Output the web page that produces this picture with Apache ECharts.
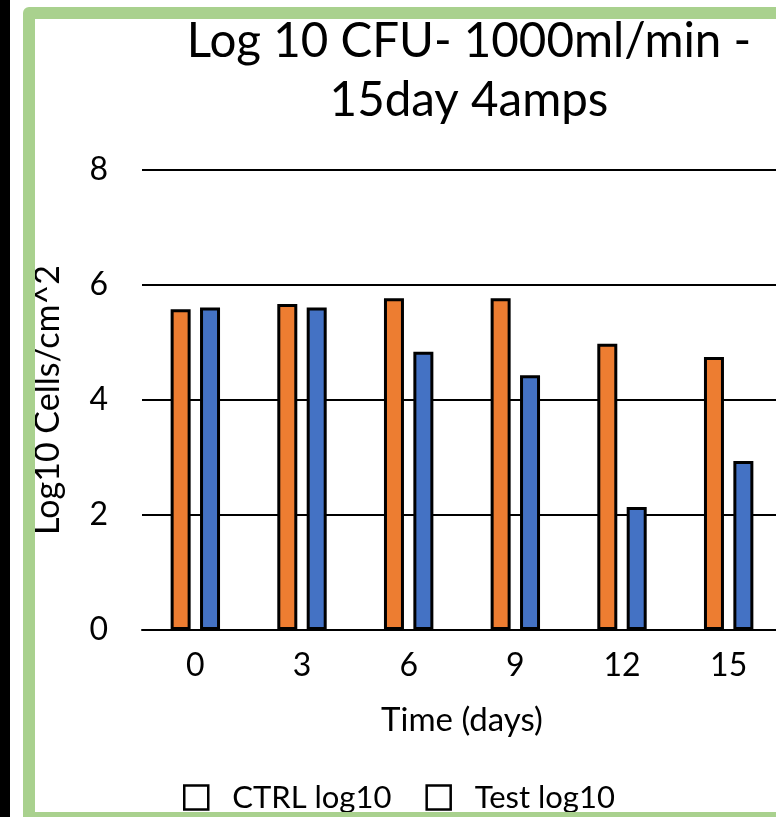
<!DOCTYPE html>
<html>
<head>
<meta charset="utf-8">
<script src="https://cdn.jsdelivr.net/npm/echarts@6/dist/echarts.min.js"></script>
<style>
  html, body { margin: 0; padding: 0; width: 776px; height: 817px; overflow: hidden; background: #fff; }
  #strip { position: absolute; left: 0; top: 0; width: 10px; height: 817px; background: #000; }
  #chart { position: absolute; left: 0; top: 0; width: 800px; height: 817px; }
  #frame { position: absolute; left: 23px; top: 7px; width: 800px; height: 793px;
           border: 12px solid #a9d18e; border-radius: 6px; pointer-events: none; }
</style>
</head>
<body>
<div id="strip"></div>
<div id="chart"></div>
<div id="frame"></div>
<script>
// Sampling days and log10 counts for the control and the treated surfaces
const days = ['0', '3', '6', '9', '12', '15'];
const ctrlLog10 = [5.58, 5.67, 5.77, 5.77, 4.98, 4.75];
const testLog10 = [5.61, 5.61, 4.84, 4.43, 2.14, 2.94];
const yTicks = [0, 2, 4, 6, 8];

const FONT = 'Lato, "Open Sans", sans-serif';
const chart = echarts.init(document.getElementById('chart'), null, { renderer: 'canvas' });

const barStyle = (color) => ({ color: color, borderColor: '#000', borderWidth: 3 });

chart.setOption({
  animation: false,
  backgroundColor: 'transparent',
  title: {
    text: 'Log 10 CFU- 1000ml/min -\n15day 4amps',
    left: 464,
    top: 7,
    textAlign: 'center',
    textStyle: { fontFamily: FONT, fontSize: 47.5, fontWeight: 'normal', color: '#000', lineHeight: 59 }
  },
  legend: {
    left: 183,
    top: 782,
    padding: 0,
    itemWidth: 24,
    itemHeight: 24,
    itemGap: 34,
    icon: 'rect',
    itemStyle: { color: '#fff', borderColor: '#000', borderWidth: 2.5 },
    textStyle: { fontFamily: FONT, fontSize: 31, color: '#000', padding: [0, 0, 0, 19] },
    data: ['CTRL log10', 'Test log10']
  },
  grid: { left: 142, top: 170, width: 640, height: 460, containLabel: false },
  xAxis: {
    type: 'category',
    data: days,
    name: 'Time (days)',
    nameLocation: 'middle',
    nameGap: 74,
    nameTextStyle: { fontFamily: FONT, fontSize: 33, color: '#000' },
    axisLine: { lineStyle: { color: '#000', width: 2 } },
    axisTick: { show: false },
    axisLabel: { fontFamily: FONT, fontSize: 32, color: '#000', margin: 20 }
  },
  yAxis: {
    type: 'value',
    min: yTicks[0],
    max: yTicks[yTicks.length - 1],
    interval: yTicks[1] - yTicks[0],
    name: 'Log10 Cells/cm^2',
    nameLocation: 'middle',
    nameRotate: 90,
    nameGap: 77,
    nameTextStyle: { fontFamily: FONT, fontSize: 34, color: '#000' },
    axisLine: { show: false },
    axisTick: { show: false },
    axisLabel: { fontFamily: FONT, fontSize: 32, color: '#000', margin: 34 },
    splitLine: { lineStyle: { color: '#000', width: 2 } }
  },
  series: [
    { name: 'CTRL log10', type: 'bar', data: ctrlLog10, barWidth: 20, barGap: '47%', itemStyle: barStyle('#ed7d31') },
    { name: 'Test log10', type: 'bar', data: testLog10, barWidth: 20, barGap: '47%', itemStyle: barStyle('#4472c4') }
  ]
});
</script>
</body>
</html>
